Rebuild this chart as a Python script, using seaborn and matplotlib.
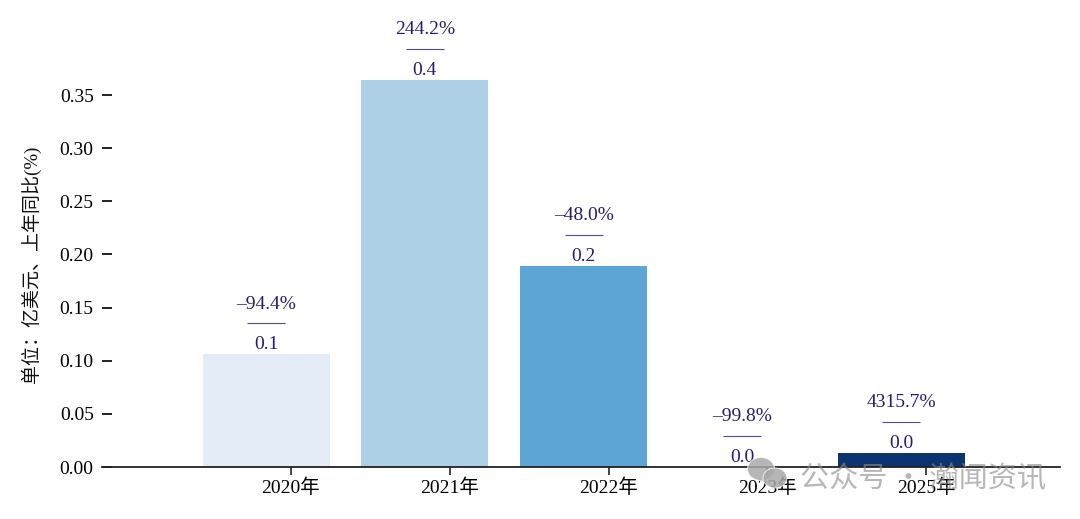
import numpy as np
import pandas as pd
import seaborn as sns
import matplotlib
matplotlib.use("Agg")
import matplotlib.pyplot as plt
from matplotlib.patches import Ellipse
from matplotlib.transforms import IdentityTransform

years = ["2020年", "2021年", "2022年", "2023年", "2025年"]
values = [0.1063, 0.3642, 0.1893, 0.0003, 0.0132]
value_labels = ["0.1", "0.4", "0.2", "0.0", "0.0"]
growth_labels = ["–94.4%", "244.2%", "–48.0%", "–99.8%", "4315.7%"]
colors = ["#e3ecf7", "#aed0e7", "#5ca5d4", "#2171b5", "#0b3470"]
yticks = [0.00, 0.05, 0.10, 0.15, 0.20, 0.25, 0.30, 0.35]
ylabel = "单位：亿美元、上年同比(%)"
watermark = "公众号 · 瀚闻资讯"

sns.set_theme(style="white")
plt.rcParams["font.family"] = ["Liberation Serif", "Noto Sans CJK SC"]
INK = "#2c1a6e"

W, H = 1080, 519
fig = plt.figure(figsize=(W / 100, H / 100), dpi=100)
ax = fig.add_axes([102 / W, 1 - 467 / H, (1060 - 102) / W, (467 - 80) / H])
df = pd.DataFrame({"year": years, "value": values})
sns.barplot(data=df, x="year", y="value", hue="year", palette=colors, legend=False,
            width=0.8, saturation=1, linewidth=0, ax=ax)
ax.set_xlim(-1.033, 5.0)
ax.set_ylim(0, 0.3642)
ax.set_xlabel("")
ax.set_ylabel(ylabel, fontsize=13.7, color="#111111")
ax.yaxis.set_label_coords(-0.064, 0.5245)
ax.set_yticks(yticks, [f"{t:.2f}" for t in yticks])
ax.set_xticks(np.arange(len(years)) + 0.157, years)
ax.tick_params(axis="y", direction="in", length=7, width=1.3, labelsize=14,
               labelcolor="black", color="#111111", pad=6, left=True)
ax.tick_params(axis="x", direction="out", length=6, width=1.1, labelsize=14,
               labelcolor="black", color="#111111", pad=2.5, bottom=True)
sns.despine(ax=ax, left=True)
ax.spines["bottom"].set_color("#222222")
ax.spines["bottom"].set_linewidth(1.3)

rule_half_width = 0.12
rule_gap = 31 / (387 / 0.3642)
for i, (v, vl, gl) in enumerate(zip(values, value_labels, growth_labels)):
    ax.annotate(vl, (i, v), xytext=(0, 0.5), textcoords="offset points", ha="center",
                va="bottom", fontsize=14, color=INK, annotation_clip=False, zorder=5)
    ax.annotate(gl, (i, v), xytext=(0, 36), textcoords="offset points", ha="center",
                va="center", fontsize=14, color=INK, annotation_clip=False, zorder=5)
    ax.plot([i - rule_half_width, i + rule_half_width], [v + rule_gap, v + rule_gap],
            color=INK, lw=0.8, alpha=0.8, clip_on=False, solid_capstyle="butt")

# watermark: WeChat-style bubbles plus text
mark = "#a9a9a9"
for cx, cy, w, h in [(761, 469, 27, 23), (775, 478, 24, 20)]:
    fig.add_artist(Ellipse((cx, H - cy), w, h, transform=IdentityTransform(),
                           facecolor=mark, edgecolor="white", linewidth=0.6, alpha=0.85, zorder=9))
fig.text(800 / W, 1 - 479 / H, watermark, fontsize=21, color="#8c8c8c", alpha=0.62,
         ha="left", va="center", family=["Noto Sans CJK SC"], zorder=10)
fig.savefig("out.png", dpi=100)
